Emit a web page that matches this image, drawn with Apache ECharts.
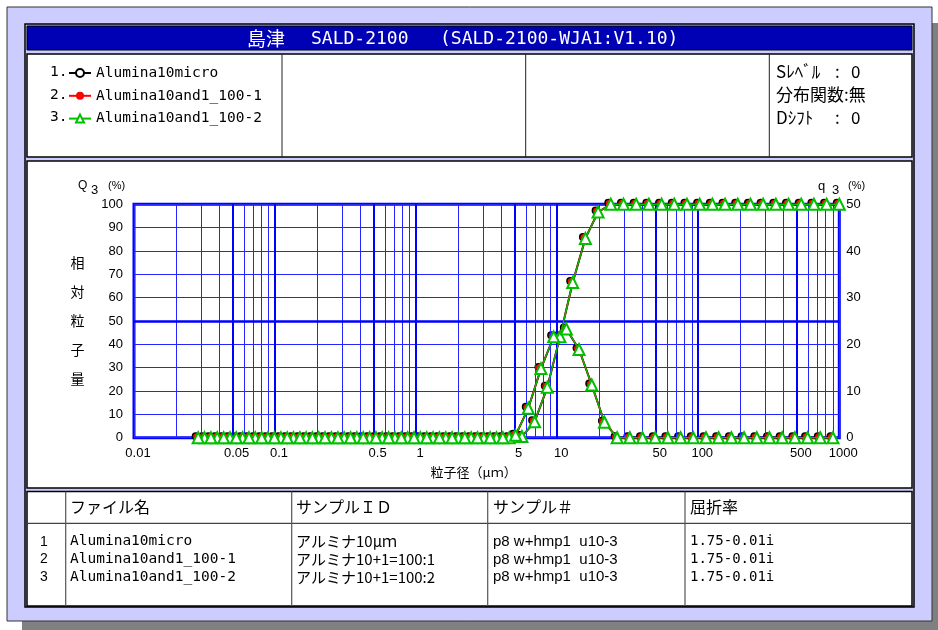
<!DOCTYPE html>
<html>
<head>
<meta charset="utf-8">
<script src="https://cdn.jsdelivr.net/npm/echarts@6/dist/echarts.min.js"></script>
<style>
  html, body { margin: 0; padding: 0; background: #fff; }
  #chart { width: 938px; height: 630px; }
</style>
</head>
<body>
<div id="chart"></div>
<script>
// particle size channels (um): channel edges for Q3, channel centres for q3
const sizeEdges = [0.0316, 0.0389, 0.0479, 0.0589, 0.0724, 0.0891, 0.110, 0.135, 0.166, 0.204,
  0.251, 0.309, 0.380, 0.468, 0.575, 0.708, 0.871, 1.072, 1.318, 1.622,
  1.995, 2.455, 3.020, 3.715, 4.571, 5.623, 6.918, 8.511, 10.47, 12.88,
  15.85, 19.50, 23.99, 29.51, 36.31, 44.67, 54.95, 67.61, 83.18, 102.33,
  125.89, 154.88, 190.55, 234.42, 288.40, 354.81, 436.52, 537.03, 660.69, 812.83, 1000];
const sizeCentres = [0.0285, 0.0351, 0.0432, 0.0531, 0.0653, 0.0804, 0.0989, 0.122, 0.150, 0.184,
  0.226, 0.279, 0.343, 0.422, 0.519, 0.638, 0.785, 0.966, 1.189, 1.462,
  1.799, 2.213, 2.723, 3.350, 4.121, 5.070, 6.237, 7.674, 9.44, 11.61,
  14.29, 17.58, 21.63, 26.61, 32.74, 40.27, 49.55, 60.95, 75.0, 92.26,
  113.5, 139.6, 171.8, 211.3, 260.0, 319.9, 393.6, 484.2, 595.7, 732.8, 901.6];

const sampleNames = ['Alumina10micro', 'Alumina10and1_100-1', 'Alumina10and1_100-2'];

// cumulative Q3 (%)
const cum1 = [0,0,0,0,0,0,0,0,0,0, 0,0,0,0,0,0,0,0,0,0, 0,0,0,0,0,0.5,6.8,21.6,43.2,66.5,
  85.4,96.7,100,100,100,100,100,100,100,100, 100,100,100,100,100,100,100,100,100,100,100];
const cum2 = [0,0,0,0,0,0,0,0,0,0, 0,0,0,0,0,0,0,0,0,0, 0,0,0,0,0,0.5,6.8,21.6,43.2,66.5,
  85.4,96.7,100,100,100,100,100,100,100,100, 100,100,100,100,100,100,100,100,100,100,100];
const cum3 = [0,0,0,0,0,0,0,0,0,0, 0,0,0,0,0,0,0,0,0,0, 0,0,0,0,0,0.5,6.8,21.6,43.2,66.5,
  85.4,96.7,100,100,100,100,100,100,100,100, 100,100,100,100,100,100,100,100,100,100,100];
// frequency q3 (%)
const freq1 = [0,0,0,0,0,0,0,0,0,0, 0,0,0,0,0,0,0,0,0,0, 0,0,0,0,0,0.5,6.3,14.8,21.6,23.3,
  18.9,11.3,3.3,0,0,0,0,0,0,0, 0,0,0,0,0,0,0,0,0,0,0];
const freq2 = [0,0,0,0,0,0,0,0,0,0, 0,0,0,0,0,0,0,0,0,0, 0,0,0,0,0,0.5,6.3,14.8,21.6,23.3,
  18.9,11.3,3.3,0,0,0,0,0,0,0, 0,0,0,0,0,0,0,0,0,0,0];
const freq3 = [0,0,0,0,0,0,0,0,0,0, 0,0,0,0,0,0,0,0,0,0, 0,0,0,0,0,0.5,6.3,14.8,21.6,23.3,
  18.9,11.3,3.3,0,0,0,0,0,0,0, 0,0,0,0,0,0,0,0,0,0,0];

const xGridTicks = [0.01,0.02,0.03,0.04,0.05,0.06,0.07,0.08,0.09,
  0.1,0.2,0.3,0.4,0.5,0.6,0.7,0.8,0.9,
  1,2,3,4,5,6,7,8,9,
  10,20,30,40,50,60,70,80,90,
  100,200,300,400,500,600,700,800,900,1000];
const xBoldTicks = [0.05, 0.1, 0.5, 1, 5, 10, 50, 100, 500];
const xLabelTicks = [0.01, 0.05, 0.1, 0.5, 1, 5, 10, 50, 100, 500, 1000];

// table
const tableHead = ['ファイル名', 'サンプルＩＤ', 'サンプル＃', '屈折率'];
const sampleIds = ['アルミナ10μｍ', 'アルミナ10+1=100:1', 'アルミナ10+1=100:2'];
const sampleNos = ['p8 w+hmp1  u10-3', 'p8 w+hmp1  u10-3', 'p8 w+hmp1  u10-3'];
const refIndex = ['1.75-0.01i', '1.75-0.01i', '1.75-0.01i'];

const cums = [cum1, cum2, cum3];
const freqs = [freq1, freq2, freq3];
const looks = [
  { color: '#000000', symbol: 'emptyCircle', size: 6, offset: [-2.5, -1.5], width: 2, z: 3 },
  { color: '#ff0000', symbol: 'circle', size: 7, offset: [-1.5, -1], width: 1.5, z: 4 },
  { color: '#00c000', symbol: 'emptyTriangle', size: 11, offset: [0, 0], width: 1.3, z: 5 }
];

const LAV = '#ccccff';
const mono = 'DejaVu Sans Mono';
const jp = 'Noto Sans CJK JP';
const sans = 'Liberation Sans';

function rect(x, y, w, h, fill, stroke, lw, z) {
  return { type: 'rect', z: z, silent: true, shape: { x: x, y: y, width: w, height: h },
    style: { fill: fill, stroke: stroke, lineWidth: lw } };
}
function line(x1, y1, x2, y2, color, lw) {
  return { type: 'line', z: -5, silent: true, shape: { x1: x1, y1: y1, x2: x2, y2: y2 },
    style: { stroke: color, lineWidth: lw } };
}
function txt(x, y, s, font, size, extra) {
  return { type: 'text', z: 10, silent: true, x: x, y: y,
    style: Object.assign({ text: s, fontFamily: font, fontSize: size, fill: '#000',
      align: 'left', verticalAlign: 'middle' }, extra || {}) };
}

const graphics = [
  rect(22, 23, 940, 620, '#808080', null, 0, -30),
  rect(7, 7, 925, 614, LAV, '#333', 1, -29),
  rect(25, 24, 889, 583, LAV, '#000', 1.5, -28),
  rect(27, 26, 885, 24, '#0000b4', '#000', 1, -27),
  rect(27, 54, 885, 103, '#fff', '#000', 1.5, -27),
  rect(27, 161, 885, 327, '#fff', '#000', 1.5, -27),
  rect(27, 491.5, 885, 114.5, '#fff', '#000', 1.5, -27),
  line(282, 54, 282, 157, '#222', 1),
  line(525.7, 54, 525.7, 157, '#222', 1),
  line(769.3, 54, 769.3, 157, '#222', 1),
  line(27, 523.3, 912, 523.3, '#444', 1.2),
  line(65.7, 491.5, 65.7, 606, '#555', 1.2),
  line(291.7, 491.5, 291.7, 606, '#555', 1.2),
  line(487.7, 491.5, 487.7, 606, '#555', 1.2),
  line(685, 491.5, 685, 606, '#555', 1.2),
  // title bar
  txt(247, 39, '島津', jp, 19, { fill: '#fff' }),
  txt(311, 39, 'SALD-2100', mono, 18, { fill: '#fff' }),
  txt(440, 39, '(SALD-2100-WJA1:V1.10)', mono, 18, { fill: '#fff' }),
  // header right cell
  txt(776, 72, 'Sﾚﾍﾞﾙ', jp, 17),
  txt(835, 72, ':', jp, 17),
  txt(851, 72, '0', jp, 17),
  txt(776, 95, '分布関数:無', jp, 17),
  txt(776, 118, 'Dｼﾌﾄ', jp, 17),
  txt(835, 118, ':', jp, 17),
  txt(851, 118, '0', jp, 17),
  // axis titles
  txt(78, 186, 'Q', sans, 12),
  txt(91, 190, '3', sans, 13),
  txt(108, 186, '(%)', sans, 11),
  txt(818, 186, 'q', sans, 13),
  txt(832, 190, '3', sans, 13),
  txt(848, 186, '(%)', sans, 11),
  txt(77.5, 248.5, '相\n対\n粒\n子\n量', jp, 14, { align: 'center', verticalAlign: 'top', lineHeight: 29 })
];
sampleNames.forEach(function (n, i) {
  graphics.push(txt(50, 72 + i * 22.8, (i + 1) + '.', mono, 14.5));
});
const headX = [70, 296, 493, 690];
tableHead.forEach(function (h, i) { graphics.push(txt(headX[i], 507, h, jp, 16)); });
sampleNames.forEach(function (n, i) {
  const y = 541.7 + i * 17.8;
  graphics.push(txt(44, y, String(i + 1), sans, 14, { align: 'center' }));
  graphics.push(txt(70, y, n, mono, 14.5));
  graphics.push(txt(296, y, sampleIds[i], jp, 15));
  graphics.push(txt(493, y, sampleNos[i], sans, 15));
  graphics.push(txt(690, y, refIndex[i], mono, 14));
});

const series = [];
// grid lines and x tick labels drawn as mark lines on the log axis
series.push({
  type: 'line', data: [], silent: true, z: 1,
  markLine: {
    silent: true, symbol: ['none', 'none'], animation: false,
    label: { position: 'start', distance: 9, color: '#000', fontFamily: sans, fontSize: 13, padding: [0, 0, 0, 8] },
    emphasis: { disabled: true },
    data: xGridTicks.map(function (v) {
      const bold = xBoldTicks.indexOf(v) >= 0;
      return {
        xAxis: v,
        lineStyle: { type: 'solid', color: bold ? '#0000ff' : '#2525ff', width: bold ? 2 : 1 },
        label: { show: xLabelTicks.indexOf(v) >= 0, formatter: String(v) }
      };
    }).concat([{ yAxis: 50, lineStyle: { type: 'solid', color: '#0000ff', width: 2.5 }, label: { show: false } }])
  }
});
sampleNames.forEach(function (name, i) {
  const lk = looks[i];
  const common = {
    type: 'line', name: name, z: lk.z, clip: false, showAllSymbol: true,
    symbol: lk.symbol, symbolSize: lk.size, symbolOffset: lk.offset,
    lineStyle: { color: lk.color, width: lk.width },
    itemStyle: { color: lk.color, borderWidth: 1.3 },
    emphasis: { disabled: true }
  };
  series.push(Object.assign({}, common, { yAxisIndex: 0,
    data: sizeEdges.map(function (x, j) { return [x, cums[i][j]]; }) }));
  series.push(Object.assign({}, common, { yAxisIndex: 1,
    data: sizeCentres.map(function (x, j) { return [x, freqs[i][j]]; }) }));
});

const chart = echarts.init(document.getElementById('chart'));
chart.setOption({
  animation: false,
  backgroundColor: '#fff',
  graphic: graphics,
  legend: {
    data: sampleNames, selectedMode: false, orient: 'vertical',
    left: 63, top: 60, itemWidth: 22, itemHeight: 10, itemGap: 6.8,
    textStyle: { fontFamily: mono, fontSize: 14.5, lineHeight: 16, color: '#000' }
  },
  grid: {
    left: 134, right: 98.7, top: 204.3, bottom: 192.3,
    show: true, borderColor: '#0000ff', borderWidth: 3, backgroundColor: 'transparent'
  },
  xAxis: {
    type: 'log', logBase: 10, min: 0.01, max: 1000,
    axisLine: { show: false }, axisTick: { show: false }, axisLabel: { show: false }, splitLine: { show: false },
    name: '粒子径（μｍ）', nameLocation: 'middle', nameGap: 28,
    nameTextStyle: { fontFamily: jp, fontSize: 13, color: '#000', padding: [0, 26, 0, 0] }
  },
  yAxis: [{
    type: 'value', min: 0, max: 100, interval: 10,
    axisLine: { show: false }, axisTick: { show: false },
    axisLabel: { margin: 11, color: '#000', fontFamily: sans, fontSize: 13 },
    splitLine: { lineStyle: { color: '#2525ff', width: 1 } }
  }, {
    type: 'value', min: 0, max: 50, interval: 10, position: 'right',
    axisLine: { show: false }, axisTick: { show: false },
    axisLabel: { margin: 7, color: '#000', fontFamily: sans, fontSize: 13 },
    splitLine: { show: false }
  }],
  series: series
});
</script>
</body>
</html>
